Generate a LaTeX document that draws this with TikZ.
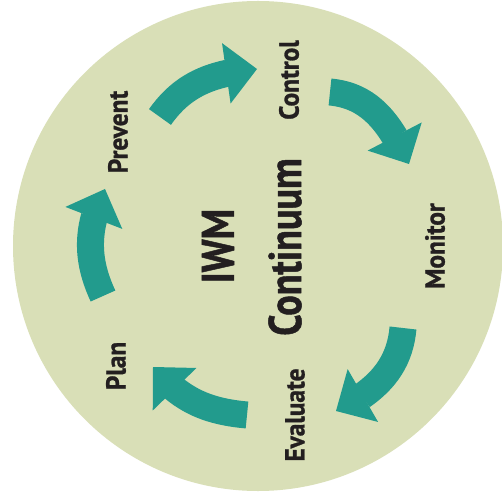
\documentclass[tikz,border=0pt]{standalone}
\usepackage{fontspec}
\usetikzlibrary{arrows.meta,bending}
\newfontfamily\phasefont[FakeStretch=0.92,FakeBold=1]{PT Sans}
\newfontfamily\titlefont[FakeStretch=0.83,FakeBold=1]{PT Sans}
\definecolor{discgreen}{RGB}{217,223,183}
\definecolor{arrowteal}{RGB}{34,155,141}
\definecolor{inkblack}{RGB}{35,31,32}
\begin{document}
\begin{tikzpicture}[x=1pt,y=1pt,line join=round,
  phase/.style={rotate=90,inner sep=0pt,text=inkblack,font=\phasefont\bfseries\fontsize{27.5}{27.5}\selectfont},
  title/.style={rotate=90,inner sep=0pt,text=inkblack,font=\titlefont\bfseries\fontsize{46}{46}\selectfont},
  cyclearrow/.style={draw=arrowteal,line width=27pt,line cap=butt,
    -{Triangle[length=31pt,width=61pt,line width=0pt,flex]}}]
	\useasboundingbox (0,0) rectangle (502,498);
	\fill[discgreen] (258,252) circle[radius=245pt];
	% labels round the cycle
	\node[phase] (control) at (289,418) {Control};
	\node[phase] (prevent) at (118,366) {Prevent};
	\node[phase] (monitor) at (435,252) {Monitor};
	\node[phase] (evaluate) at (295,83) {Evaluate};
	\node[phase] (plan) at (116,132) {Plan};
	% centre
	\node[title] (iwm) at (218,252) {IWM};
	\node[title] (continuum) at (285,251) {Continuum};
	% arrow ends
	\coordinate (t1) at (160,381); \coordinate (h1) at (257,429);
	\coordinate (t2) at (330,406); \coordinate (h2) at (409,334);
	\coordinate (t3) at (403,170); \coordinate (h3) at (336,87);
	\coordinate (t4) at (247,83);  \coordinate (h4) at (153,131);
	\coordinate (t5) at (103,202); \coordinate (h5) at (105,309);
	\foreach \s/\e/\o/\i in
	{
		t1/h1/55/185,
		t2/h2/-5/115,
		t3/h3/-95/26,
		t4/h4/175/-51,
		t5/h5/115/244
	}
	{
		\draw[cyclearrow] (\s) to[out=\o,in=\i] (\e);
	}
\end{tikzpicture}
\end{document}
